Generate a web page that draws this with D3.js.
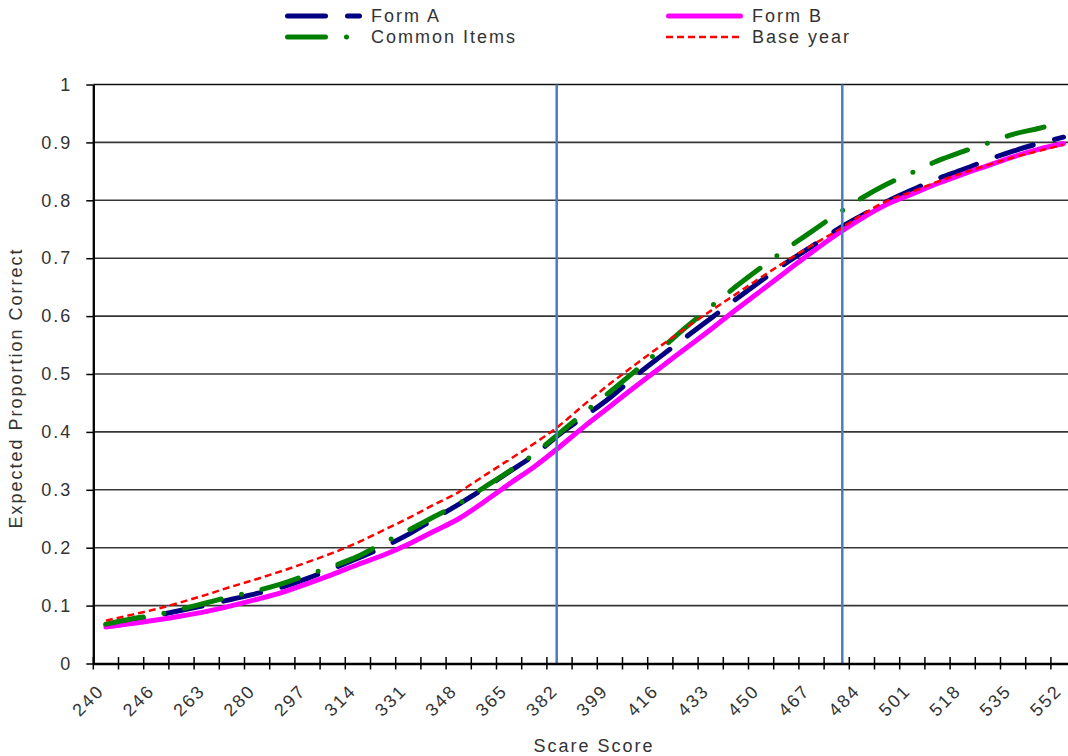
<!DOCTYPE html>
<html>
<head>
<meta charset="utf-8">
<script src="https://cdn.jsdelivr.net/npm/d3@7"></script>
<style>
  html, body { margin: 0; padding: 0; background: #fff; }
  svg { display: block; font-family: "Liberation Sans", Arial, sans-serif; }
</style>
</head>
<body>
<svg id="chart" width="1068" height="756"></svg>
<script>
// Scale-score categories on the horizontal axis (every other one is labelled)
const categories = [240, 243, 246, 254, 263, 271, 280, 288, 297, 305, 314, 322, 331, 339, 348, 356,
  365, 373, 382, 390, 399, 407, 416, 424, 433, 441, 450, 458, 467, 475, 484, 492, 501, 509, 518,
  526, 535, 543, 552];
const tickLabels = [240, 246, 263, 280, 297, 314, 331, 348, 365, 382, 399, 416, 433, 450, 467,
  484, 501, 518, 535, 552];
const yTickValues = [0, 0.1, 0.2, 0.3, 0.4, 0.5, 0.6, 0.7, 0.8, 0.9, 1];

// Expected proportion correct for each test form
const formA = [0.067, 0.075, 0.083, 0.092, 0.101, 0.111, 0.121, 0.132, 0.147, 0.164, 0.182, 0.201,
  0.223, 0.249, 0.275, 0.302, 0.331, 0.360, 0.396, 0.427, 0.459, 0.496, 0.530, 0.563, 0.596, 0.629,
  0.661, 0.692, 0.720, 0.749, 0.774, 0.798, 0.818, 0.837, 0.853, 0.870, 0.885, 0.898, 0.909];
const formB = [0.063, 0.069, 0.075, 0.082, 0.090, 0.100, 0.111, 0.123, 0.138, 0.154, 0.171, 0.187,
  0.206, 0.228, 0.250, 0.279, 0.310, 0.340, 0.374, 0.410, 0.444, 0.478, 0.511, 0.544, 0.577, 0.611,
  0.644, 0.677, 0.710, 0.741, 0.769, 0.793, 0.811, 0.829, 0.845, 0.860, 0.875, 0.888, 0.898];
const commonItems = [0.068, 0.077, 0.084, 0.094, 0.105, 0.116, 0.126, 0.138, 0.153, 0.168, 0.185,
  0.208, 0.230, 0.253, 0.276, 0.304, 0.332, 0.362, 0.398, 0.434, 0.469, 0.505, 0.542, 0.580, 0.616,
  0.651, 0.684, 0.716, 0.746, 0.776, 0.804, 0.828, 0.848, 0.868, 0.884, 0.899, 0.914, 0.924, 0.935];
const baseYear = [0.074, 0.084, 0.094, 0.106, 0.119, 0.133, 0.146, 0.160, 0.175, 0.191, 0.209,
  0.230, 0.251, 0.274, 0.296, 0.324, 0.352, 0.380, 0.411, 0.448, 0.483, 0.516, 0.548, 0.579, 0.609,
  0.638, 0.667, 0.695, 0.722, 0.747, 0.775, 0.799, 0.815, 0.832, 0.847, 0.861, 0.874, 0.885, 0.896];

// Cut scores marked with vertical reference lines
const cutScores = [381, 477];

const W = 1068, H = 756;
const plot = { left: 93.3, top: 84.5, bottom: 663.5, step: 25.2 };
const textColor = "#333";

const svg = d3.select("#chart");
svg.append("rect").attr("width", W).attr("height", H).attr("fill", "#fff");

const x = d3.scaleBand()
  .domain(categories)
  .range([plot.left, plot.left + plot.step * categories.length])
  .padding(0);
const y = d3.scaleLinear().domain([0, 1]).range([plot.bottom, plot.top]);
const cx = c => x(c) + x.bandwidth() / 2;
// piecewise-linear map from a score to its position along the category axis
const xScore = d3.scaleLinear().domain(categories).range(categories.map(cx));

// horizontal gridlines
svg.append("g").selectAll("line")
  .data(yTickValues.filter(v => v > 0))
  .join("line")
  .attr("x1", plot.left).attr("x2", W)
  .attr("y1", d => y(d)).attr("y2", d => y(d))
  .attr("stroke", d => d === 1 ? "#111" : "#363636")
  .attr("stroke-width", 1.6);

// series
const series = [
  { name: "Form A", values: formA, color: "#000080", width: 5, dash: "38 22", cap: "round" },
  { name: "Form B", values: formB, color: "#FF00FF", width: 5, dash: null, cap: "round" },
  { name: "Common Items", values: commonItems, color: "#008000", width: 5, dash: "38 21 0 21", cap: "round" },
  { name: "Base year", values: baseYear, color: "#FF0000", width: 2.5, dash: "7 4", cap: "butt" }
];

const line = d3.line()
  .x((d, i) => cx(categories[i]))
  .y(d => y(d))
  .curve(d3.curveMonotoneX);

svg.append("g").selectAll("path")
  .data(series)
  .join("path")
  .attr("d", s => line(s.values))
  .attr("fill", "none")
  .attr("stroke", s => s.color)
  .attr("stroke-width", s => s.width)
  .attr("stroke-dasharray", s => s.dash)
  .attr("stroke-linecap", s => s.cap)
  .attr("stroke-linejoin", "round");

// cut-score reference lines
svg.append("g").selectAll("line")
  .data(cutScores)
  .join("line")
  .attr("x1", d => xScore(d)).attr("x2", d => xScore(d))
  .attr("y1", y(1)).attr("y2", y(0))
  .attr("stroke", "#4A7EBB")
  .attr("stroke-width", 2.5);

// y axis
const yAxis = svg.append("g")
  .attr("transform", `translate(${plot.left},0)`)
  .call(d3.axisLeft(y)
    .tickValues(yTickValues)
    .tickSize(7)
    .tickSizeOuter(0)
    .tickPadding(14)
    .tickFormat(d => String(+d.toFixed(1))));
yAxis.select(".domain").attr("stroke", "#000").attr("stroke-width", 2.3);
yAxis.selectAll(".tick line").attr("stroke", "#000").attr("stroke-width", 1.5);
yAxis.selectAll(".tick text")
  .attr("fill", textColor)
  .style("font-size", "18px")
  .style("letter-spacing", "2px")
  .style("font-family", "'Liberation Sans', Arial, sans-serif");

// x axis: labels at category centres, tick marks on the category boundaries
const xAxis = svg.append("g")
  .attr("transform", `translate(0,${plot.bottom})`)
  .call(d3.axisBottom(x).tickValues(tickLabels).tickSize(0).tickSizeOuter(0));
xAxis.select(".domain").attr("stroke", "#000").attr("stroke-width", 2.3);
xAxis.selectAll(".tick text")
  .attr("x", 0).attr("y", 0).attr("dy", "0.35em")
  .attr("text-anchor", "end")
  .attr("transform", "translate(-5,24) rotate(-45)")
  .attr("fill", textColor)
  .style("font-size", "18px")
  .style("letter-spacing", "2px")
  .style("font-family", "'Liberation Sans', Arial, sans-serif");

const boundaries = categories.map(c => x(c)).concat([x.range()[1]]);
xAxis.append("g").selectAll("line")
  .data(boundaries)
  .join("line")
  .attr("x1", d => d).attr("x2", d => d)
  .attr("y1", -6.5).attr("y2", 6)
  .attr("stroke", "#000").attr("stroke-width", 1.5);

// axis titles
svg.append("text")
  .attr("x", 594).attr("y", 752)
  .attr("text-anchor", "middle")
  .attr("fill", textColor)
  .style("font-size", "18px")
  .style("letter-spacing", "2px")
  .text("Scare Score");

svg.append("text")
  .attr("transform", "translate(22,388) rotate(-90)")
  .attr("text-anchor", "middle")
  .attr("fill", textColor)
  .style("font-size", "18px")
  .style("letter-spacing", "2px")
  .text("Expected Proportion Correct");

// legend: two rows, two columns
const legendPos = [
  { x: 285, y: 16 }, { x: 666, y: 16 },
  { x: 285, y: 37 }, { x: 666, y: 37 }
];
const legend = svg.append("g").selectAll("g")
  .data(series)
  .join("g")
  .attr("transform", (s, i) => `translate(${legendPos[i].x},${legendPos[i].y})`);
legend.append("path")
  .attr("d", s => s.cap === "round" ? "M2.5,0H74.5" : "M0,0H76")
  .attr("fill", "none")
  .attr("stroke", s => s.color)
  .attr("stroke-width", s => s.width)
  .attr("stroke-dasharray", s => s.dash)
  .attr("stroke-linecap", s => s.cap);
legend.append("text")
  .attr("x", 86).attr("y", 0).attr("dy", "0.36em")
  .attr("fill", textColor)
  .style("font-size", "18px")
  .style("letter-spacing", "2px")
  .text(s => s.name);
</script>
</body>
</html>
